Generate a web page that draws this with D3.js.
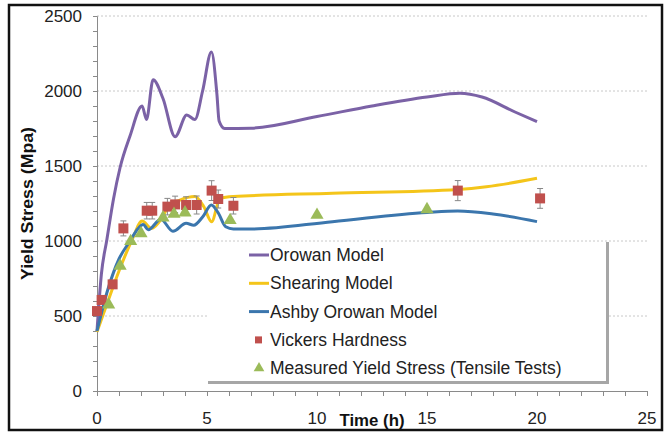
<!DOCTYPE html>
<html>
<head>
<meta charset="utf-8">
<script src="https://cdn.jsdelivr.net/npm/d3@7"></script>
<style>
  body { margin: 0; background: #fff; }
  text { font-family: "Liberation Sans", Arial, sans-serif; }
</style>
</head>
<body>
<div id="chart"></div>
<script>
// model curves: [time (h), stress (MPa)]
var orowanModel = [[0, 400], [0.2, 780], [0.45, 1010], [0.75, 1280], [1.05, 1490], [1.5, 1700],
    [2.05, 1900], [2.25, 1810], [2.55, 2075], [3.0, 1950], [3.55, 1695], [4.08, 1840],
    [4.45, 1810], [4.8, 2000], [5.2, 2260], [5.45, 1980], [5.55, 1800], [5.8, 1750], [7, 1752],
    [10, 1830], [12.5, 1900], [15, 1960], [16.5, 1985], [17.5, 1960], [19, 1860], [20, 1796]];
var shearingModel = [[0, 395], [0.5, 600], [1.0, 800], [1.6, 1010], [2.05, 1133], [2.48, 1084], [2.94, 1151],
    [3.24, 1229], [3.77, 1273], [4.45, 1296], [4.85, 1230], [5.21, 1129], [5.59, 1284], [6.2, 1296],
    [10.7, 1318], [16.4, 1344], [17.7, 1362], [20, 1418]];
var ashbyOrowanModel = [[0, 400], [0.5, 680], [1.0, 880], [1.5, 1000], [1.85, 1080], [2.1, 1110], [2.33, 1075],
    [2.9, 1145], [3.45, 1065], [4.05, 1118], [4.4, 1105], [4.8, 1160], [5.2, 1240], [5.5, 1190],
    [5.85, 1095], [6.2, 1080], [7, 1080], [10.7, 1129], [15, 1190], [16.4, 1200], [18, 1180], [20, 1129]];

// Vickers hardness: time, stress, error
var vickersTime = [0, 0.21, 0.71, 1.2, 2.26, 2.51, 3.2, 3.55, 4.05, 4.53, 5.21, 5.51, 6.2, 16.4, 20.14];
var vickersStress = [533, 607, 711, 1084, 1202, 1202, 1229, 1244, 1240, 1240, 1336, 1280, 1235, 1336, 1284];
var vickersError = [15, 20, 25, 50, 55, 55, 55, 55, 55, 60, 66, 60, 55, 67, 66];

// measured yield stress (tensile tests)
var tensileTime = [0.53, 1.05, 1.53, 2.0, 3.0, 3.5, 4.0, 6.05, 10, 15];
var tensileStress = [576, 834, 998, 1051, 1156, 1180, 1189, 1138, 1173, 1211];

var xTicks = [0, 5, 10, 15, 20, 25];
var yTicks = [0, 500, 1000, 1500, 2000, 2500];
var legendLabels = ["Orowan Model", "Shearing Model", "Ashby Orowan Model", "Vickers Hardness",
    "Measured Yield Stress (Tensile Tests)"];

var width = 671;
var height = 433;

var colors = {
    orowan: "#7b62a6",
    shearing: "#f4c51a",
    ashby: "#3b76ad",
    vickers: "#c0504d",
    tensile: "#9bbb59"
};

var svg = d3.select("#chart")
    .append("svg")
    .attr("width", width)
    .attr("height", height);

var x = d3.scaleLinear().domain([0, 25]).range([97, 647]);
var y = d3.scaleLinear().domain([0, 2500]).range([391, 16]);

// outer frame
svg.append("rect")
    .attr("x", 9).attr("y", 5)
    .attr("width", 653).attr("height", 425)
    .attr("fill", "none")
    .attr("stroke", "#111")
    .attr("stroke-width", 2.5);

// gridlines
svg.append("g")
    .selectAll("line")
    .data(yTicks.slice(1))
    .join("line")
    .attr("x1", x(0)).attr("x2", x(25))
    .attr("y1", d => y(d)).attr("y2", d => y(d))
    .attr("stroke", "#c8c8c8")
    .attr("stroke-dasharray", "2,2");

// y axis
var yAxis = svg.append("g")
    .attr("transform", "translate(" + x(0) + ",0)")
    .call(d3.axisLeft(y).tickValues(d3.range(0, 2501, 100)).tickSize(4).tickFormat(""));
yAxis.selectAll("line, path").attr("stroke", "#8a8a8a");

svg.append("g")
    .selectAll("text")
    .data(yTicks)
    .join("text")
    .attr("x", 82)
    .attr("y", d => y(d) + 6)
    .attr("text-anchor", "end")
    .attr("font-size", 17)
    .attr("fill", "#222")
    .text(d => d);

// x axis
var xAxis = svg.append("g")
    .attr("transform", "translate(0," + y(0) + ")")
    .call(d3.axisBottom(x).tickValues(d3.range(0, 26, 1)).tickSize(5).tickFormat(""));
xAxis.selectAll("line, path").attr("stroke", "#8a8a8a");

svg.append("g")
    .selectAll("text")
    .data(xTicks)
    .join("text")
    .attr("x", d => x(d))
    .attr("y", 424)
    .attr("text-anchor", "middle")
    .attr("font-size", 17)
    .attr("fill", "#222")
    .text(d => d);

svg.append("text")
    .attr("x", 372)
    .attr("y", 426)
    .attr("text-anchor", "middle")
    .attr("font-size", 17)
    .attr("font-weight", "bold")
    .attr("fill", "#111")
    .attr("textLength", 65)
    .attr("lengthAdjust", "spacingAndGlyphs")
    .text("Time (h)");

svg.append("text")
    .attr("transform", "translate(33," + y(1250) + ") rotate(-90)")
    .attr("text-anchor", "middle")
    .attr("font-size", 17)
    .attr("font-weight", "bold")
    .attr("fill", "#111")
    .attr("textLength", 153)
    .attr("lengthAdjust", "spacingAndGlyphs")
    .text("Yield Stress (Mpa)");

// legend box (drawn over gridlines, under data)
var legendX = 208, legendY = 242, legendW = 398, legendH = 139;
svg.append("rect")
    .attr("x", legendX).attr("y", legendY)
    .attr("width", legendW).attr("height", legendH)
    .attr("fill", "#fff");
svg.append("path")
    .attr("d", "M" + (legendX + legendW + 1.5) + "," + legendY + "V" + (legendY + legendH + 1.5) + "H" + legendX)
    .attr("fill", "none")
    .attr("stroke", "#a6a6a6")
    .attr("stroke-width", 3);

var line = d3.line()
    .x(d => x(d[0]))
    .y(d => y(d[1]))
    .curve(d3.curveMonotoneX);

var series = [
    { data: orowanModel, color: colors.orowan },
    { data: shearingModel, color: colors.shearing },
    { data: ashbyOrowanModel, color: colors.ashby }
];

svg.append("g")
    .selectAll("path")
    .data(series)
    .join("path")
    .attr("d", d => line(d.data))
    .attr("fill", "none")
    .attr("stroke", d => d.color)
    .attr("stroke-width", 3)
    .attr("stroke-linejoin", "round");

// vickers error bars + squares
var vickers = vickersTime.map((t, i) => ({ t: t, v: vickersStress[i], e: vickersError[i] }));

var errs = svg.append("g").attr("stroke", "#888").attr("stroke-width", 1);
errs.selectAll(".bar")
    .data(vickers)
    .join("line")
    .attr("x1", d => x(d.t)).attr("x2", d => x(d.t))
    .attr("y1", d => y(d.v + d.e)).attr("y2", d => y(d.v - d.e));
errs.selectAll(".cap")
    .data(vickers.flatMap(d => [d.v + d.e, d.v - d.e].map(v => ({ t: d.t, v: v }))))
    .join("line")
    .attr("x1", d => x(d.t) - 3).attr("x2", d => x(d.t) + 3)
    .attr("y1", d => y(d.v)).attr("y2", d => y(d.v));

svg.append("g")
    .selectAll("rect")
    .data(vickers)
    .join("rect")
    .attr("x", d => x(d.t) - 5)
    .attr("y", d => y(d.v) - 5)
    .attr("width", 10)
    .attr("height", 10)
    .attr("fill", colors.vickers);

var triangle = d3.symbol().type(d3.symbolTriangle).size(75);

svg.append("g")
    .selectAll("path")
    .data(tensileTime.map((t, i) => [t, tensileStress[i]]))
    .join("path")
    .attr("transform", d => "translate(" + x(d[0]) + "," + y(d[1]) + ")")
    .attr("d", triangle)
    .attr("fill", colors.tensile);

// legend entries
var legendColors = [colors.orowan, colors.shearing, colors.ashby, colors.vickers, colors.tensile];
var rows = svg.append("g")
    .selectAll("g")
    .data(legendLabels)
    .join("g")
    .attr("transform", (d, i) => "translate(0," + (255 + i * 28.3) + ")");

rows.filter((d, i) => i < 3)
    .append("line")
    .attr("x1", 249).attr("x2", 269)
    .attr("y1", 0).attr("y2", 0)
    .attr("stroke", (d, i) => legendColors[i])
    .attr("stroke-width", 3);

rows.filter((d, i) => i === 3)
    .append("rect")
    .attr("x", 255).attr("y", -3.5)
    .attr("width", 7).attr("height", 7)
    .attr("fill", colors.vickers);

rows.filter((d, i) => i === 4)
    .append("path")
    .attr("transform", "translate(259,0)")
    .attr("d", d3.symbol().type(d3.symbolTriangle).size(50))
    .attr("fill", colors.tensile);

rows.append("text")
    .attr("x", 270)
    .attr("y", 6)
    .attr("font-size", 17.5)
    .attr("fill", "#222")
    .text(d => d);
</script>
</body>
</html>
